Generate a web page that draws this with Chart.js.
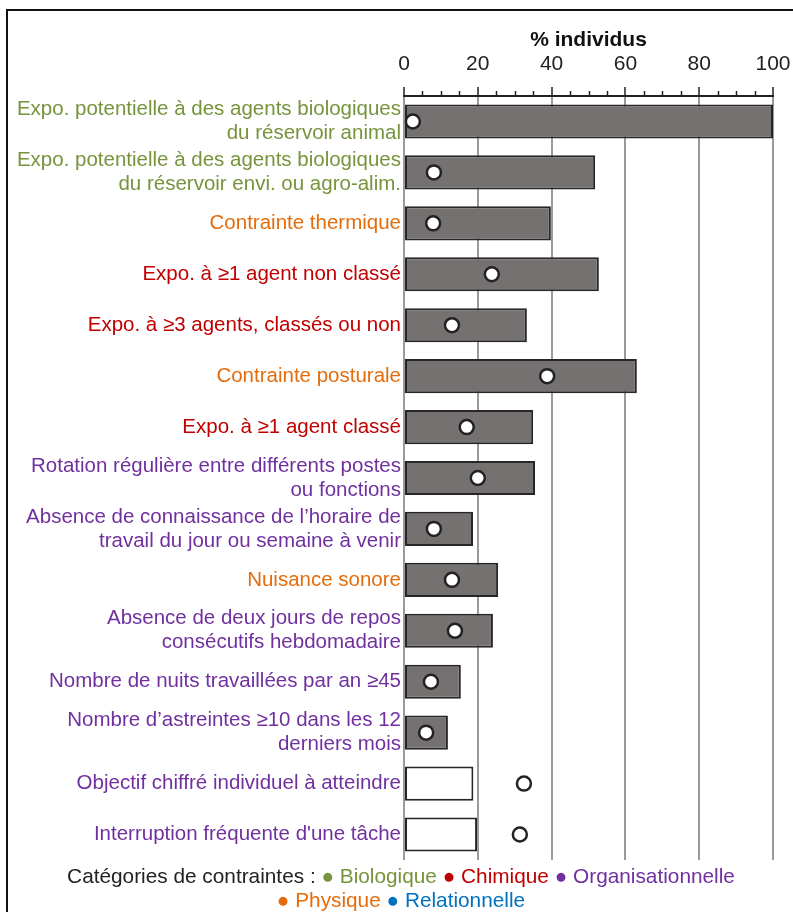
<!DOCTYPE html>
<html>
<head>
<meta charset="utf-8">
<script src="https://cdn.jsdelivr.net/npm/chart.js@4"></script>
<style>
  body { margin: 0; background: #fff; }
  #wrap { position: relative; width: 793px; height: 912px; }
  #frameTop { position: absolute; left: 6px; top: 9px; width: 787px; height: 2px; background: #111; }
  #frameLeft { position: absolute; left: 6px; top: 9px; width: 2px; height: 903px; background: #111; }
  #legend { position: absolute; left: 0; top: 864px; width: 802px; text-align: center;
    font-family: "Liberation Sans", Arial, sans-serif; font-size: 20.8px; line-height: 24px; color: #222; }
</style>
</head>
<body>
<div id="wrap">
  <canvas id="chart" width="793" height="912"></canvas>
  <div id="frameTop"></div>
  <div id="frameLeft"></div>
  <div id="legend">
    Catégories de contraintes :
    <span style="color:#77933c">● Biologique</span>
    <span style="color:#c00000">● Chimique</span>
    <span style="color:#7030a0">● Organisationnelle</span><br>
    <span style="color:#e46c0a">● Physique</span>
    <span style="color:#0070c0">● Relationnelle</span>
  </div>
</div>
<script>
'use strict';
// Labels of each constraint (multi-line where the picture wraps them)
let labels = [
  ['Expo. potentielle à des agents biologiques', 'du réservoir animal'],
  ['Expo. potentielle à des agents biologiques', 'du réservoir envi. ou agro-alim.'],
  'Contrainte thermique',
  'Expo. à ≥1 agent non classé',
  'Expo. à ≥3 agents, classés ou non',
  'Contrainte posturale',
  'Expo. à ≥1 agent classé',
  ['Rotation régulière entre différents postes', 'ou fonctions'],
  ['Absence de connaissance de l\u2019horaire de', 'travail du jour ou semaine à venir'],
  'Nuisance sonore',
  ['Absence de deux jours de repos', 'consécutifs hebdomadaire'],
  'Nombre de nuits travaillées par an ≥45',
  ['Nombre d\u2019astreintes ≥10 dans les 12', 'derniers mois'],
  'Objectif chiffré individuel à atteindre',
  'Interruption fréquente d\'une tâche'
];
let categories = ['bio', 'bio', 'phys', 'chim', 'chim', 'phys', 'chim', 'orga', 'orga', 'phys', 'orga', 'orga', 'orga', 'orga', 'orga'];
let barValues = [100, 51.8, 39.8, 52.8, 33.3, 63.1, 35, 35.5, 18.7, 25.5, 24.1, 15.4, 11.9, 18.8, 19.8];
let pointValues = [2.4, 8.1, 7.9, 23.8, 13, 38.8, 17, 20, 8.1, 13, 13.8, 7.3, 6, 32.5, 31.4];
let whiteBars = [13, 14]; // indexes of the bars drawn without fill
let xTicks = [0, 20, 40, 60, 80, 100];

let catColors = { bio: '#77933c', chim: '#c00000', orga: '#7030a0', phys: '#e46c0a', rel: '#0070c0' };
let fontFamily = '"Liberation Sans", Arial, sans-serif';

// minor ticks every 5 on the top axis
let minorTicks = {
  id: 'minorTicks',
  afterDraw(chart) {
    let ctx = chart.ctx;
    let x = chart.scales.x;
    let yAxis = x.bottom;
    ctx.save();
    ctx.strokeStyle = '#222';
    ctx.lineWidth = 1.5;
    for (let v = 5; v < 100; v += 5) {
      if (v % 20 === 0) continue;
      let px = Math.round(x.getPixelForValue(v)) + 0.5;
      ctx.beginPath();
      ctx.moveTo(px, yAxis);
      ctx.lineTo(px, yAxis - 5);
      ctx.stroke();
    }
    ctx.restore();
  }
};

new Chart(document.getElementById('chart'), {
  data: {
    labels: labels,
    datasets: [
      {
        type: 'line',
        data: pointValues,
        indexAxis: 'y',
        showLine: false,
        pointRadius: 7,
        pointBorderWidth: 2.5,
        pointBackgroundColor: '#fff',
        pointBorderColor: '#222',
        order: 0
      },
      {
        type: 'bar',
        data: barValues,
        indexAxis: 'y',
        backgroundColor: barValues.map((v, i) => whiteBars.includes(i) ? '#fff' : '#767171'),
        borderColor: '#262626',
        borderWidth: 2,
        borderSkipped: false,
        categoryPercentage: 1,
        barPercentage: 0.67,
        order: 1
      }
    ]
  },
  options: {
    indexAxis: 'y',
    responsive: false,
    animation: false,
    layout: { padding: { top: 26, right: 0, left: 0, bottom: 52 } },
    plugins: { legend: { display: false }, tooltip: { enabled: false } },
    scales: {
      x: {
        position: 'top',
        min: 0,
        max: 100,
        afterBuildTicks: (scale) => { scale.ticks = xTicks.map(v => ({ value: v })); },
        afterFit: (scale) => {
          scale.height = 70;
          scale.paddingLeft = 0;
          scale.paddingRight = 20;
        },
        title: {
          display: true,
          text: '% individus',
          color: '#111',
          font: { family: fontFamily, size: 21, weight: 'bold' },
          padding: { top: 2, bottom: 0 }
        },
        ticks: {
          color: '#222',
          padding: 10,
          maxRotation: 0,
          font: { family: fontFamily, size: 21 }
        },
        grid: {
          color: '#9a9a9a',
          lineWidth: 2,
          tickLength: 9,
          tickColor: '#222',
          tickWidth: 1.5
        },
        border: { display: true, color: '#222', width: 2 }
      },
      y: {
        afterFit: (scale) => { scale.width = 404; },
        ticks: {
          autoSkip: false,
          padding: 3,
          font: { family: fontFamily, size: 20.5, lineHeight: 1.17 },
          color: (ctx) => catColors[categories[ctx.index]]
        },
        grid: { display: false, drawTicks: false },
        border: { display: false }
      }
    }
  },
  plugins: [minorTicks]
});
</script>
</body>
</html>
